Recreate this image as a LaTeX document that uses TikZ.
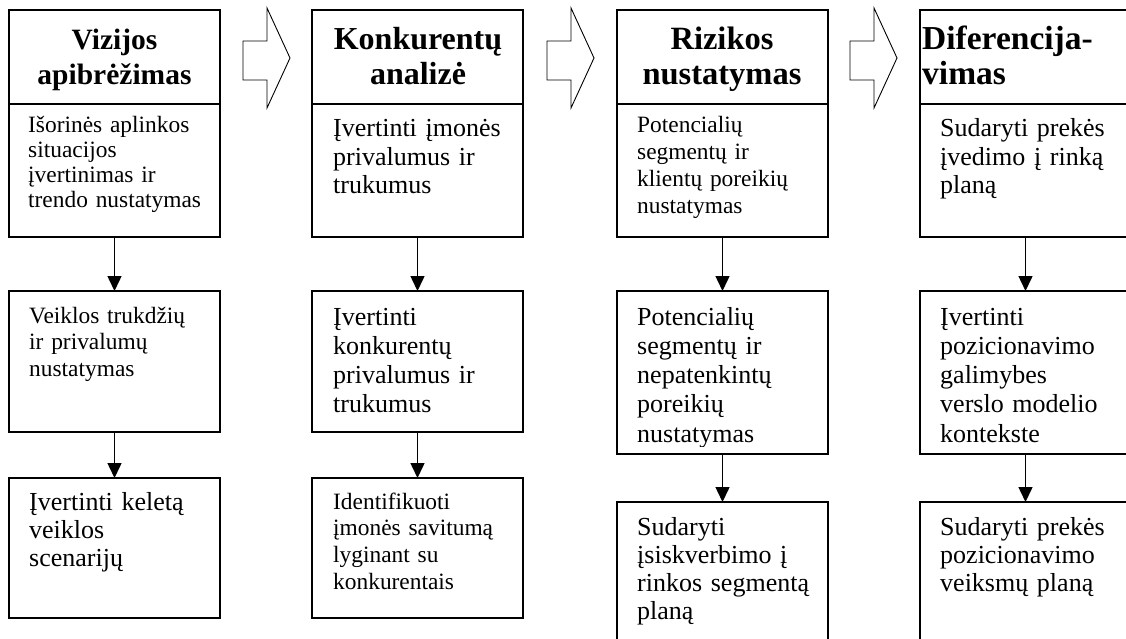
\documentclass[tikz,border=0pt]{standalone}
\usepackage{fontspec}
\setmainfont{Liberation Serif}
\usetikzlibrary{arrows.meta}

\begin{document}
\begin{tikzpicture}[x=1pt,y=-1pt,
  box/.style={draw, line width=1.4pt, minimum width=211pt, inner sep=0pt, outer sep=0pt, anchor=north west},
  head/.style={font=\bfseries\fontsize{#1}{35}\selectfont, text width=211pt, align=center, anchor=base, inner sep=0pt},
  head/.default=32,
  small/.style={font=\fontsize{23.4}{26.8}\selectfont, text width=190pt, align=left, anchor=base west, inner sep=0pt},
  large/.style={font=\fontsize{26}{28.3}\selectfont, text width=190pt, align=left, anchor=base west, inner sep=0pt},
  loose/.style={large, font=\fontsize{26}{29.3}\selectfont},
  flow/.style={-{Triangle[length=15pt,width=14pt]}, line width=1.5pt},
  blockarrow/.style={draw, line width=0.9pt, line join=miter}]
\clip (0,0) rectangle (1126,639);
\fill[white] (0,0) rectangle (1126,639);

% ---------- stage 1 ----------
\node[box, minimum height=94pt]  (h1) at (9,10) {};
\node[box, minimum height=133pt] (a1) at (9,104) {};
\node[box, minimum height=141pt] (b1) at (9,291) {};
\node[box, minimum height=140pt] (c1) at (9,478) {};
\node[head=29.5] (h1t) at (114.5,50) {Vizijos\\apibrėžimas};
\node[small, font=\fontsize{23.4}{25}\selectfont] (a1t) at (28,133) {Išorinės aplinkos\\situacijos\\įvertinimas ir\\trendo nustatymas};
\node[small] (b1t) at (29,323) {Veiklos trukdžių\\ir privalumų\\nustatymas};
\node[large] (c1t) at (29,510) {Įvertinti keletą\\veiklos\\scenarijų};
\draw[flow] (a1.south) -- (b1.north);
\draw[flow] (b1.south) -- (c1.north);

% ---------- stage 2 ----------
\node[box, minimum height=94pt]  (h2) at (312,10) {};
\node[box, minimum height=133pt] (a2) at (312,104) {};
\node[box, minimum height=141pt] (b2) at (312,291) {};
\node[box, minimum height=140pt] (c2) at (312,478) {};
\node[head=32] (h2t) at (418,50) {Konkurentų\\analizė};
\node[large] (a2t) at (333,137) {Įvertinti įmonės\\privalumus ir\\trukumus};
\node[loose] (b2t) at (333,325) {Įvertinti\\konkurentų\\privalumus ir\\trukumus};
\node[small] (c2t) at (333,509) {Identifikuoti\\įmonės savitumą\\lyginant su\\konkurentais};
\draw[flow] (a2.south) -- (b2.north);
\draw[flow] (b2.south) -- (c2.north);

% ---------- stage 3 ----------
\node[box, minimum height=94pt]  (h3) at (617,10) {};
\node[box, minimum height=133pt] (a3) at (617,104) {};
\node[box, minimum height=163pt] (b3) at (617,291) {};
\node[box, minimum height=160pt] (c3) at (617,502) {};
\node[head=32.5] (h3t) at (722,50) {Rizikos\\nustatymas};
\node[small] (a3t) at (637,133) {Potencialių\\segmentų ir\\klientų poreikių\\nustatymas};
% the last line runs into the frame, its descenders are cut
\begin{scope}
  \clip (617,291) rectangle (827,446);
  \node[loose] (b3t) at (637,325) {Potencialių\\segmentų ir\\nepatenkintų\\poreikių\\nustatymas};
\end{scope}
\node[large] (c3t) at (637,535) {Sudaryti\\įsiskverbimo į\\rinkos segmentą\\planą};
\draw[flow] (a3.south) -- (b3.north);
\draw[flow] (b3.south) -- (c3.north);

% ---------- stage 4 ----------
\node[box, minimum height=94pt]  (h4) at (920,10) {};
\node[box, minimum height=133pt] (a4) at (920,104) {};
\node[box, minimum height=163pt] (b4) at (920,291) {};
\node[box, minimum height=160pt] (c4) at (920,502) {};
\node[head=33.5, align=left, anchor=base west] (h4t) at (922,50) {Diferencija-\\vimas};
\node[large] (a4t) at (940,137) {Sudaryti prekės\\įvedimo į rinką\\planą};
\node[loose] (b4t) at (940,325) {Įvertinti\\pozicionavimo\\galimybes\\verslo modelio\\kontekste};
\node[large] (c4t) at (940,535) {Sudaryti prekės\\pozicionavimo\\veiksmų planą};
\draw[flow] (a4.south) -- (b4.north);
\draw[flow] (b4.south) -- (c4.north);

% ---------- hollow block arrows between stages ----------
\foreach \bx in {243,547,850}{
  \draw[blockarrow] (\bx,41) -- (\bx+24,41) -- (\bx+24,8) -- (\bx+47,58)
    -- (\bx+24,108) -- (\bx+24,80) -- (\bx,80) -- cycle;
}
\end{tikzpicture}
\end{document}
